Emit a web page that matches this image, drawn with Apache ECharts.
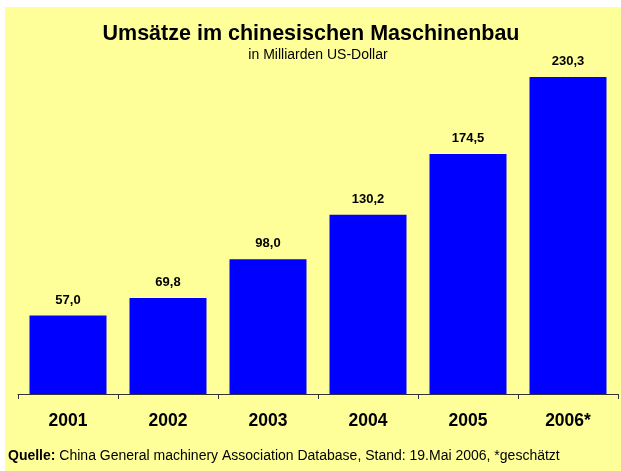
<!DOCTYPE html>
<html>
<head>
<meta charset="UTF-8" />
<title>Umsätze im chinesischen Maschinenbau</title>
<style type="text/css">
body,html{margin:0;padding:0;border:0;width:100%;height:100%;overflow:hidden;background:#fff;}
</style>
<script src="https://cdn.jsdelivr.net/npm/echarts@6/dist/echarts.min.js"></script>
</head>
<body>
<div id="chartContainer" style="width:621px;height:471px;"></div>
<script type="text/javascript">
var years = ['2001', '2002', '2003', '2004', '2005', '2006*'];
var sales = [57.0, 69.8, 98.0, 130.2, 174.5, 230.3];

function fmt(v) { return v.toFixed(1).replace('.', ','); }

var FONT = 'Liberation Sans, Arial, sans-serif';
var option = {
    animation: false,
    backgroundColor: '#ffffff',
    textStyle: { fontFamily: FONT },
    graphic: [
        { type: 'rect', left: 5, top: 7, z: -10, shape: { width: 616, height: 464 }, style: { fill: '#FFFF99' } },
        { type: 'text', x: 311, y: 23, style: { text: 'Umsätze im chinesischen Maschinenbau', align: 'center', font: 'bold 21.5px ' + FONT, fill: '#000' } },
        { type: 'text', x: 318, y: 48, style: { text: 'in Milliarden US-Dollar', align: 'center', font: '14px ' + FONT, fill: '#000' } },
        { type: 'text', left: 8, top: 449, style: {
            text: '{b|Quelle:} China General machinery Association Database, Stand: 19.Mai 2006, *geschätzt',
            font: '14px ' + FONT, fill: '#000',
            rich: { b: { fontWeight: 'bold', fontSize: 14, fontFamily: FONT } }
        } }
    ],
    grid: { left: 18, right: 3, top: 50, bottom: 77, containLabel: false },
    xAxis: {
        type: 'category', data: years,
        axisLine: { lineStyle: { color: '#333', width: 1 } },
        axisTick: { show: true, length: 5, lineStyle: { color: '#333' } },
        axisLabel: { color: '#000', fontWeight: 'bold', fontSize: 17.5, margin: 18 }
    },
    yAxis: { type: 'value', min: 0, max: 250, show: false, splitLine: { show: false } },
    series: [{
        type: 'bar', data: sales, barWidth: '77%',
        itemStyle: { color: '#0000FF' },
        label: { show: true, position: 'top', distance: 9, color: '#000', fontWeight: 'bold', fontSize: 13,
            formatter: function (p) { return fmt(p.value); } }
    }]
};

var chart = echarts.init(document.getElementById('chartContainer'));
chart.setOption(option);
</script>
</body>
</html>
